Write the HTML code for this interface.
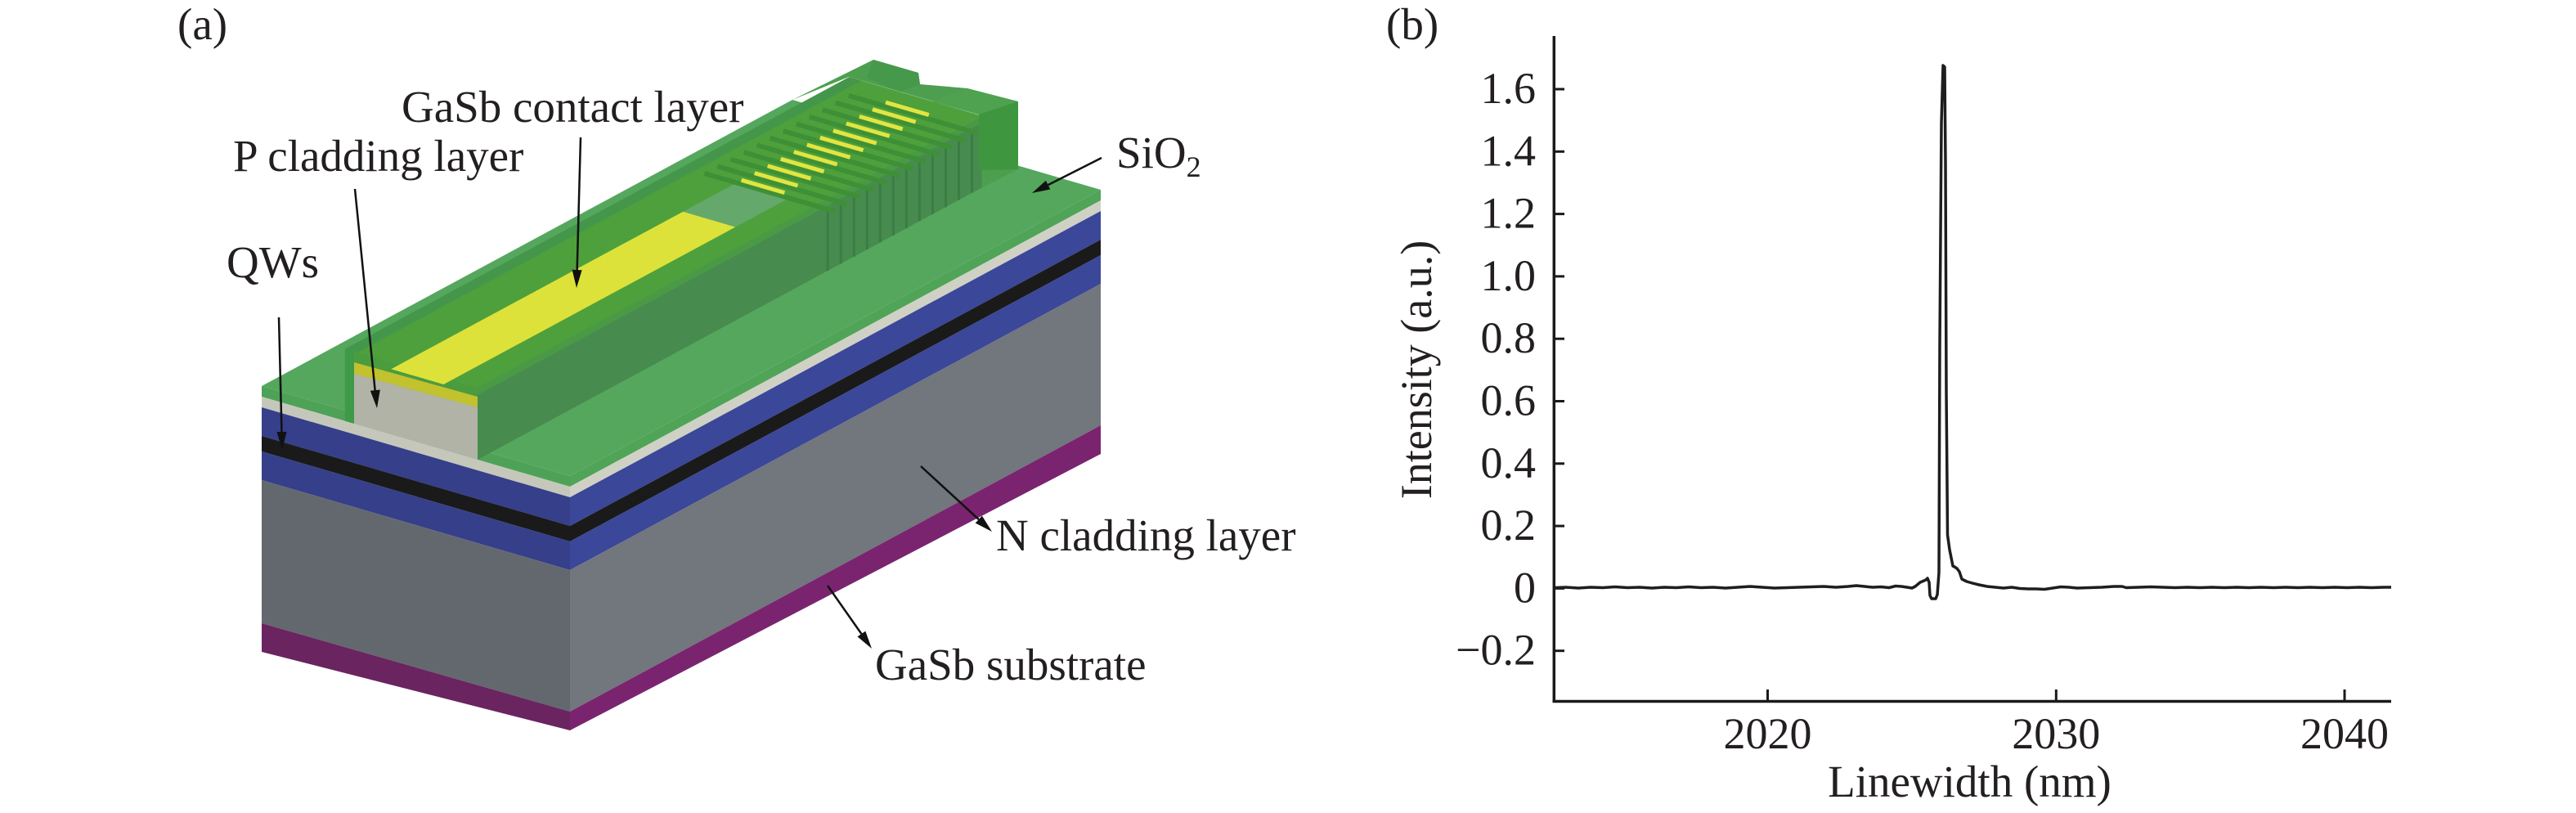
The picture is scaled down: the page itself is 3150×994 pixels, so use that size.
<!DOCTYPE html>
<html>
<head>
<meta charset="utf-8">
<style>
html,body{margin:0;padding:0;background:#ffffff;}
svg{display:block;}
svg text{font-family:"Liberation Serif", serif;fill:#231f20;}
</style>
</head>
<body>
<svg width="3150" height="994" viewBox="0 0 3150 994" xmlns="http://www.w3.org/2000/svg" font-family="Liberation Serif, serif">
<rect x="0" y="0" width="3150" height="994" fill="#ffffff"/>

<!-- ================= Panel (a) ================= -->
<polygon points="697,582 1346,232 1346,245 697,595" fill="#4fa458"/>
<polygon points="697,595 1346,245 1346,258 697,608" fill="#d0d1c5"/>
<polygon points="697,608 1346,258 1346,293 697,643" fill="#3b4799"/>
<polygon points="697,643 1346,293 1346,312 697,662" fill="#1a1a1a"/>
<polygon points="697,662 1346,312 1346,347 697,697" fill="#3b4799"/>
<polygon points="697,697 1346,347 1346,520 697,870" fill="#72767d"/>
<polygon points="697,870 1346,520 1346,555 697,893" fill="#7a2470"/>

<polygon points="320,472 697,582 697,595 320,485" fill="#4ea257"/>
<polygon points="320,485 697,595 697,608 320,498" fill="#c6c7bb"/>
<polygon points="320,498 697,608 697,643 320,533" fill="#353f8a"/>
<polygon points="320,533 697,643 697,662 320,552" fill="#1a1a1a"/>
<polygon points="320,552 697,662 697,697 320,587" fill="#353f8a"/>
<polygon points="320,587 697,697 697,870 320,762" fill="#63686f"/>
<polygon points="320,762 697,870 697,893 320,797" fill="#6a2460"/>

<polygon points="320,472 697,582 1346,232 969,122" fill="#55a75d"/>

<polygon points="969,122 1068,73 1123,89 1125,103 1183,108 1245,125 1245,207 1200,230 1200,141 1038,94" fill="#4d9f4f"/>
<polygon points="1068,73 1123,89 1125,103 1100,112 1060,95" fill="#46984a"/>

<polygon points="421.8,426.7 583.9,474 1200.4,141.5 1038.4,94.2" fill="#4ea03c"/>
<polygon points="421.8,426.7 436.9,431.1 1053.4,98.6 1038.4,94.2" fill="#44964a"/>
<polygon points="421.8,426.7 583.9,474 584,485 433,443" fill="#4a9c3e"/>

<polygon points="583.9,474 1200.4,141.5 1200.4,229.5 583.9,562" fill="#478b4e"/>
<polygon points="583.9,474 1200.4,141.5 1200.4,150 583.9,483" fill="#4a9a45"/>

<polygon points="421.8,426.7 433,430 433,518 421.8,514.7" fill="#3f9a47"/>

<polygon points="433,457 584,498 584,562 433,518" fill="#b1b3a7"/>
<polygon points="433,443 584,485 584,498 433,457" fill="#c2c22e"/>

<polygon points="478.3,451.2 542.4,470 899.4,277.5 835.3,258.7" fill="#dde23a"/>
<polygon points="835.3,258.7 899.4,277.5 964.3,242.5 900.2,223.7" fill="#64a86c"/>

<g stroke="#3c7d45" stroke-width="3">
<line x1="1012.2" y1="256" x2="1012.2" y2="331"/>
<line x1="1028.2" y1="247.3" x2="1028.2" y2="322.3"/>
<line x1="1044.3" y1="238.7" x2="1044.3" y2="313.7"/>
<line x1="1060.3" y1="230" x2="1060.3" y2="305"/>
<line x1="1076.3" y1="221.4" x2="1076.3" y2="296.4"/>
<line x1="1092.4" y1="212.7" x2="1092.4" y2="287.7"/>
<line x1="1108.4" y1="204.1" x2="1108.4" y2="279.1"/>
<line x1="1124.4" y1="195.4" x2="1124.4" y2="270.4"/>
<line x1="1140.4" y1="186.7" x2="1140.4" y2="261.7"/>
<line x1="1156.5" y1="178.1" x2="1156.5" y2="253.1"/>
<line x1="1172.5" y1="169.4" x2="1172.5" y2="244.4"/>
<line x1="1188.5" y1="160.8" x2="1188.5" y2="235.8"/>
</g>

<g stroke="#3e9036" stroke-width="6">
<line x1="861.4" y1="212.0" x2="1019.7" y2="258.2"/>
<line x1="877.5" y1="203.4" x2="1035.8" y2="249.6"/>
<line x1="893.5" y1="194.7" x2="1051.8" y2="240.9"/>
<line x1="909.5" y1="186.1" x2="1067.8" y2="232.3"/>
<line x1="925.6" y1="177.4" x2="1083.9" y2="223.6"/>
<line x1="941.6" y1="168.8" x2="1099.9" y2="215.0"/>
<line x1="957.6" y1="160.1" x2="1115.9" y2="206.3"/>
<line x1="973.7" y1="151.5" x2="1132.0" y2="197.7"/>
<line x1="989.7" y1="142.8" x2="1148.0" y2="189.0"/>
<line x1="1005.7" y1="134.2" x2="1164.0" y2="180.4"/>
<line x1="1021.7" y1="125.5" x2="1180.0" y2="171.7"/>
<line x1="1037.8" y1="116.9" x2="1196.1" y2="163.1"/>
</g>
<g stroke="#e2e540" stroke-width="5">
<line x1="906.6" y1="220.2" x2="959.4" y2="235.6"/>
<line x1="922.7" y1="211.6" x2="975.5" y2="227.0"/>
<line x1="938.7" y1="202.9" x2="991.5" y2="218.3"/>
<line x1="954.7" y1="194.3" x2="1007.5" y2="209.7"/>
<line x1="970.8" y1="185.6" x2="1023.6" y2="201.0"/>
<line x1="986.8" y1="177.0" x2="1039.6" y2="192.4"/>
<line x1="1002.8" y1="168.3" x2="1055.6" y2="183.7"/>
<line x1="1018.9" y1="159.7" x2="1071.7" y2="175.1"/>
<line x1="1034.9" y1="151.0" x2="1087.7" y2="166.4"/>
<line x1="1050.9" y1="142.4" x2="1103.7" y2="157.8"/>
<line x1="1066.9" y1="133.7" x2="1119.7" y2="149.1"/>
<line x1="1083.0" y1="125.1" x2="1135.8" y2="140.5"/>
</g>

<polygon points="1183,108 1245,124 1197,140 1140,124" fill="#4ea250"/>
<polygon points="1197,140 1245,124 1245,207 1197,208" fill="#3e963f"/>

<g stroke="#111111" stroke-width="2.5" fill="none">
<line x1="710" y1="168" x2="705.6" y2="332"/>
<line x1="434" y1="231" x2="458.8" y2="479"/>
<line x1="341" y1="388" x2="344.5" y2="530"/>
<line x1="1347" y1="193" x2="1281.6" y2="226.1"/>
<line x1="1126" y1="570" x2="1196.8" y2="635.1"/>
<line x1="1012" y1="716" x2="1053.4" y2="775"/>
</g>
<g fill="#111111">
<polygon points="705,352 711.6,330.2 699.6,329.8"/>
<polygon points="461,499 464.8,476.5 452.8,477.7"/>
<polygon points="345,550 350.5,527.9 338.5,528.1"/>
<polygon points="1262,236 1284.3,231.5 1278.9,220.7"/>
<polygon points="1213,650 1192.7,639.5 1200.9,630.7"/>
<polygon points="1066,793 1048.5,778.4 1058.3,771.6"/>
</g>

<g font-family="Liberation Serif, serif" font-size="55" fill="#231f20">
<text x="217" y="48">(a)</text>
<text x="491" y="149">GaSb contact layer</text>
<text x="285" y="209">P cladding layer</text>
<text x="277" y="339">QWs</text>
<text x="1365" y="205">SiO<tspan font-size="36" dy="11">2</tspan></text>
<text x="1218" y="673">N cladding layer</text>
<text x="1070" y="831">GaSb substrate</text>
<text x="1695" y="48">(b)</text>
</g>

<!-- ================= Panel (b) ================= -->
<g stroke="#1a1a1a" stroke-width="3.5" fill="none">
<line x1="1900.3" y1="44" x2="1900.3" y2="859"/>
<line x1="1898.5" y1="857.5" x2="2924" y2="857.5"/>
</g>
<g stroke="#1a1a1a" stroke-width="3">
<line x1="1900" y1="795.7" x2="1913" y2="795.7"/>
<line x1="1900" y1="719.4" x2="1913" y2="719.4"/>
<line x1="1900" y1="643.1" x2="1913" y2="643.1"/>
<line x1="1900" y1="566.8" x2="1913" y2="566.8"/>
<line x1="1900" y1="490.5" x2="1913" y2="490.5"/>
<line x1="1900" y1="414.2" x2="1913" y2="414.2"/>
<line x1="1900" y1="337.9" x2="1913" y2="337.9"/>
<line x1="1900" y1="261.6" x2="1913" y2="261.6"/>
<line x1="1900" y1="185.3" x2="1913" y2="185.3"/>
<line x1="1900" y1="109" x2="1913" y2="109"/>
<line x1="2161.5" y1="857.5" x2="2161.5" y2="843"/>
<line x1="2514.3" y1="857.5" x2="2514.3" y2="843"/>
<line x1="2867" y1="857.5" x2="2867" y2="843"/>
</g>

<g font-family="Liberation Serif, serif" font-size="54" text-anchor="end" fill="#231f20">
<text x="1878" y="812.7">−0.2</text>
<text x="1878" y="736.4">0</text>
<text x="1878" y="660.1">0.2</text>
<text x="1878" y="583.8">0.4</text>
<text x="1878" y="507.5">0.6</text>
<text x="1878" y="431.2">0.8</text>
<text x="1878" y="354.9">1.0</text>
<text x="1878" y="278.6">1.2</text>
<text x="1878" y="202.3">1.4</text>
<text x="1878" y="126">1.6</text>
</g>
<g font-family="Liberation Serif, serif" font-size="54" text-anchor="middle" fill="#231f20">
<text x="2161.5" y="915">2020</text>
<text x="2514.3" y="915">2030</text>
<text x="2867" y="915">2040</text>
</g>

<g font-family="Liberation Serif, serif" fill="#231f20">
<text x="2408.5" y="974" font-size="55" text-anchor="middle">Linewidth (nm)</text>
<text x="1750" y="452" font-size="54" text-anchor="middle" transform="rotate(-90 1750 452)">Intensity (a.u.)</text>
</g>

<polyline fill="none" stroke="#1e1e1e" stroke-width="3.5" stroke-linejoin="round"
points="1902,718.5 1915,718 1930,719 1945,718 1960,718.5 1975,717.5 1990,718.5 2005,718 2020,719 2035,718 2050,718.5 2065,717.5 2080,718.5 2095,718 2110,719 2125,718 2140,717 2155,718 2170,719 2185,718.5 2200,718 2215,717.5 2230,717 2245,718 2260,717 2270,716 2280,717 2290,718 2300,717.5 2310,718.5 2318,716.5 2325,717 2332,718 2338,719 2342,717 2348,712 2355,709 2357,707 2359,712 2360,728 2362,732 2367,732 2369,727 2371,700 2372,420 2374,150 2376,80 2378,82 2379,200 2380,480 2381.5,654 2384,672 2388,692 2390,693 2393,695 2396,699 2399,708 2405,711 2412,713 2420,715 2430,717 2440,718 2450,719 2460,718 2470,719.5 2480,720 2490,720 2500,720.5 2510,719 2520,717.5 2530,718 2540,719 2555,718.5 2570,718 2585,717 2595,717 2600,718.5 2615,718 2630,717.5 2645,718 2660,718.5 2675,718 2690,718.5 2705,718 2720,718.5 2735,718 2750,718.5 2765,718 2780,718.5 2795,718 2810,718.5 2825,718 2840,718.5 2855,718 2870,718.5 2885,718 2900,718.5 2915,718 2924,718"/>
</svg>
</body>
</html>
